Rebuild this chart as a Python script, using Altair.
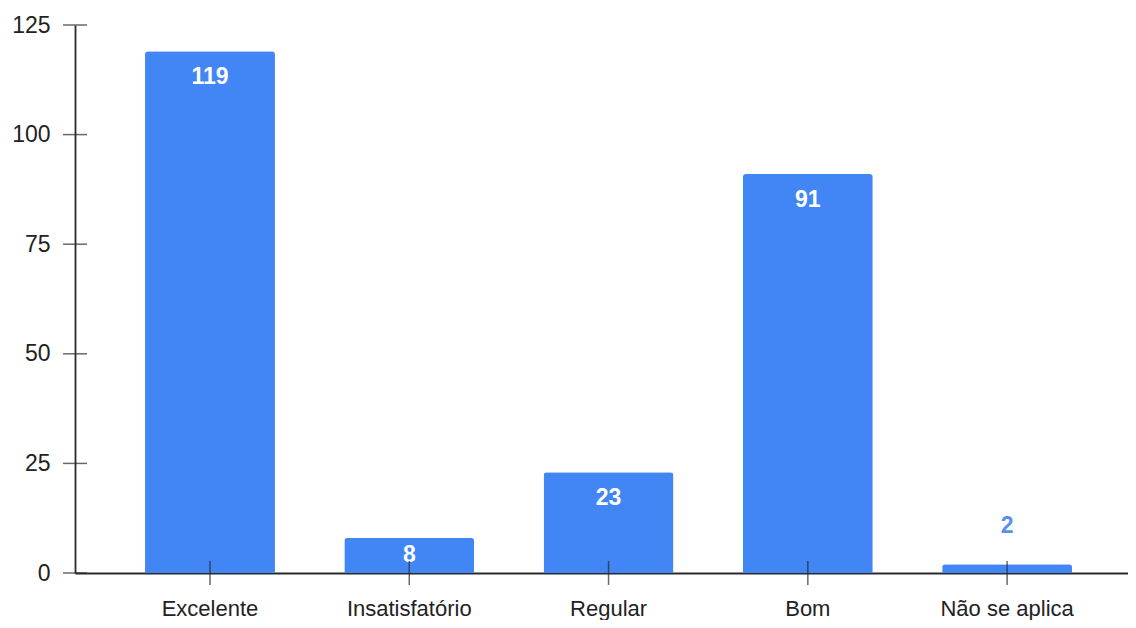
import altair as alt
import pandas as pd

categories = ["Excelente", "Insatisfatório", "Regular", "Bom", "Não se aplica"]
values = [119, 8, 23, 91, 2]
y_ticks = [0, 25, 50, 75, 100, 125]

df = pd.DataFrame({"cat": categories, "val": values})
tick_df = pd.DataFrame({"t": y_ticks})

W, H = 1053, 548
BLUE = "#4285F4"
AX = "#2a2a2a"
FONT = "Liberation Sans"

xscale = alt.Scale(domain=categories, paddingInner=0.348, paddingOuter=0.316, align=0.556)
yscale = alt.Scale(domain=[0, 125], nice=False)

x_enc = alt.X("cat:N", sort=categories, scale=xscale,
              axis=alt.Axis(title=None, labelAngle=0, ticks=False, domainColor=AX, domainWidth=1.8,
                            labelFont=FONT, labelFontSize=22, labelColor="#222222", labelPadding=25))
y_enc = alt.Y("val:Q", scale=yscale,
              axis=alt.Axis(title=None, values=y_ticks, ticks=False, grid=False, domainColor=AX, domainWidth=1.8,
                            labelFont=FONT, labelFontSize=23, labelColor="#222222", labelPadding=25))

bars = alt.Chart(df).mark_bar(color=BLUE, cornerRadiusTopLeft=3, cornerRadiusTopRight=3).encode(x=x_enc, y=y_enc)

lab_big = alt.Chart(df).transform_filter("datum.val >= 15").mark_text(
    font=FONT, fontSize=23, fontWeight="bold", color="white", dy=26, baseline="middle"
).encode(x=alt.X("cat:N", sort=categories, scale=xscale), y=alt.Y("val:Q", scale=yscale), text="val:Q")

lab_mid = alt.Chart(df).transform_filter("datum.val >= 5 && datum.val < 15").transform_calculate(
    half="datum.val / 2").mark_text(
    font=FONT, fontSize=23, fontWeight="bold", color="white", baseline="middle"
).encode(x=alt.X("cat:N", sort=categories, scale=xscale), y=alt.Y("half:Q", scale=yscale), text="val:Q")

lab_small = alt.Chart(df).transform_filter("datum.val < 5").mark_text(
    font=FONT, fontSize=23, fontWeight="bold", color="#5B8FEF", dy=-38, baseline="middle"
).encode(x=alt.X("cat:N", sort=categories, scale=xscale), y=alt.Y("val:Q", scale=yscale), text="val:Q")

xticks = alt.Chart(df).mark_tick(color=AX, orient="vertical", size=24, thickness=1.5).encode(
    x=alt.X("cat:N", sort=categories, scale=xscale), y=alt.value(H))

yticks = alt.Chart(tick_df).mark_tick(color=AX, orient="horizontal", size=24, thickness=1.5).encode(
    y=alt.Y("t:Q", scale=yscale), x=alt.value(0))

chart = alt.layer(bars, lab_big, lab_mid, lab_small, xticks, yticks).properties(
    width=W, height=H,
    autosize=alt.AutoSizeParams(type="none"),
    padding={"left": 67, "top": 17, "right": 0, "bottom": 47},
).configure_view(stroke=None).configure_axis(grid=False)

chart.save("out.html", embed_options={"renderer": "svg", "actions": False})
